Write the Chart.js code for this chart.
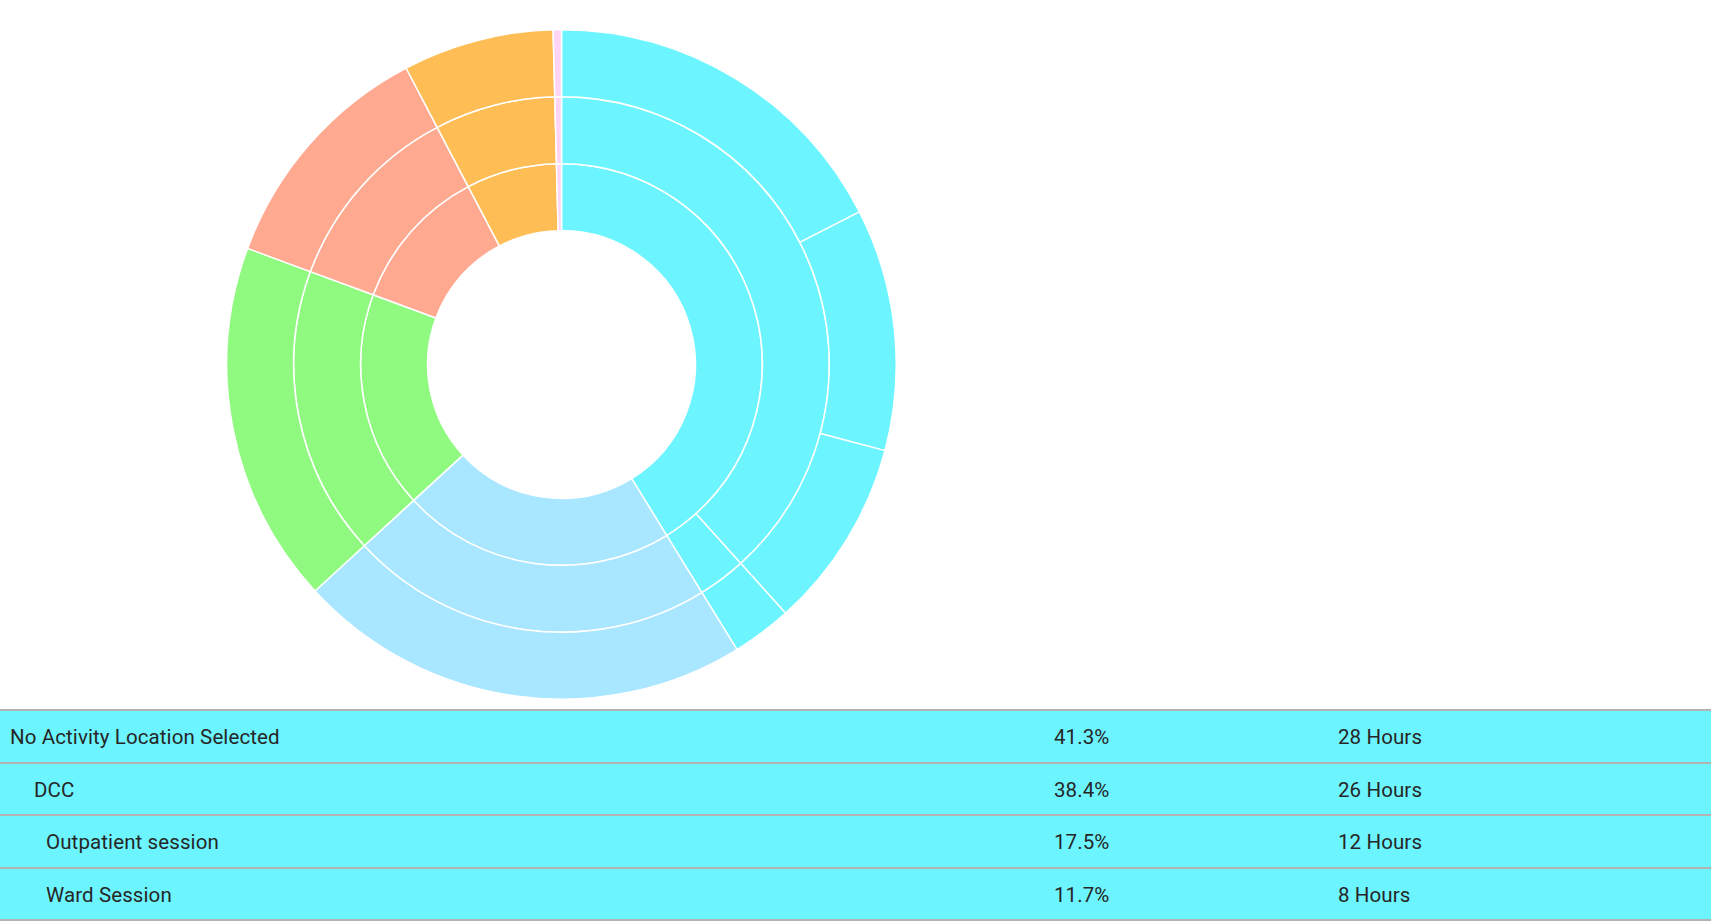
<!DOCTYPE html>
<html>
<head>
<meta charset="utf-8">
<script src="https://cdn.jsdelivr.net/npm/chart.js@4/dist/chart.umd.min.js"></script>
<style>
  html, body { margin: 0; padding: 0; background: #fff; font-family: Roboto, "Noto Sans", sans-serif; }
  #wrap { position: absolute; left: 226px; top: 29px; width: 671px; height: 671px; }
  #table { position: absolute; left: 0; top: 709px; width: 1711px; }
  .row { position: relative; box-sizing: border-box; height: 52.5px; background: #6df5ff;
         border-top: 2px solid #b3b3b3; font-size: 20.5px; color: #262626; line-height: 53px; }
  .row.last { border-bottom: 2px solid #b3b3b3; height: 54.5px; }
  .row span { position: absolute; top: 0; white-space: nowrap; letter-spacing: 0.1px; }
</style>
</head>
<body>
<div id="wrap"><canvas id="myChart"></canvas></div>
<div id="table"></div>
<script>
// ring colours (same order for every ring's top-level group)
const cyan = '#6cf5ff';
const lightBlue = '#a9e6ff';
const green = '#90fa80';
const salmon = '#ffaa90';
const orange = '#ffbe55';
const pink = '#ffd4f5';

// inner ring: top level (percent of total)
const level1 = [41.3, 22.0, 17.5, 11.7, 7.3, 0.4];
const level1Colors = [cyan, lightBlue, green, salmon, orange, pink];

// middle ring
const level2 = [38.4, 2.9, 22.0, 17.5, 11.7, 7.3, 0.4];
const level2Colors = [cyan, cyan, lightBlue, green, salmon, orange, pink];

// outer ring
const level3 = [17.5, 11.7, 9.2, 2.9, 22.0, 17.5, 11.7, 7.3, 0.4];
const level3Colors = [cyan, cyan, cyan, cyan, lightBlue, green, salmon, orange, pink];

// table below the chart
const rowLabels = ['No Activity Location Selected', 'DCC', 'Outpatient session', 'Ward Session'];
const rowIndent = [10, 34, 46, 46];
const rowPercents = ['41.3%', '38.4%', '17.5%', '11.7%'];
const rowHours = ['28 Hours', '26 Hours', '12 Hours', '8 Hours'];

const ring = (values, colors) => ({
  data: values,
  backgroundColor: colors,
  borderColor: '#ffffff',
  borderWidth: 1.5,
  hoverOffset: 0
});

const config = {
  type: 'doughnut',
  data: {
    labels: level3.map((v, i) => 'slice ' + i),
    datasets: [
      ring(level3, level3Colors),
      ring(level2, level2Colors),
      ring(level1, level1Colors)
    ]
  },
  options: {
    responsive: true,
    maintainAspectRatio: false,
    animation: false,
    cutout: '40%',
    layout: { padding: 0 },
    plugins: {
      legend: { display: false },
      tooltip: { enabled: false }
    }
  }
};

const myChart = new Chart(document.getElementById('myChart'), config);

const table = document.getElementById('table');
rowLabels.forEach((label, i) => {
  const row = document.createElement('div');
  row.className = 'row' + (i === rowLabels.length - 1 ? ' last' : '');
  row.innerHTML =
    '<span style="left:' + rowIndent[i] + 'px">' + label + '</span>' +
    '<span style="left:1054px">' + rowPercents[i] + '</span>' +
    '<span style="left:1338px">' + rowHours[i] + '</span>';
  table.appendChild(row);
});
</script>
</body>
</html>
